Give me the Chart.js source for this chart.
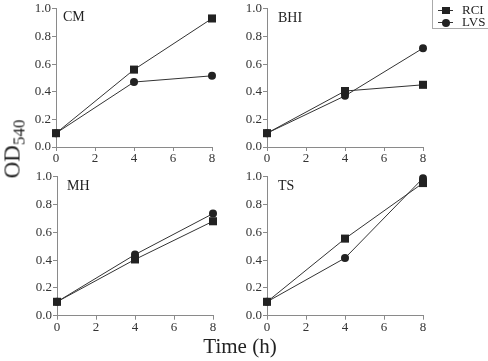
<!DOCTYPE html>
<html>
<head>
<meta charset="utf-8">
<script src="https://cdn.jsdelivr.net/npm/chart.js@4/dist/chart.umd.min.js"></script>
<style>
  body { margin: 0; background: #fff; }
  #wrap { position: relative; width: 488px; height: 361px; overflow: hidden; font-family: "Liberation Serif", "Times New Roman", serif; color: #222; }
  canvas { position: absolute; }
  #ylab { position: absolute; left: 14px; top: 149px; transform: translate(-50%, -50%) rotate(-90deg); font-size: 23px; line-height: 1; white-space: nowrap; }
  #ylab sub { font-size: 17px; vertical-align: -5px; line-height: 1; }
  #xlab { position: absolute; left: 240px; top: 334px; transform: translateX(-50%); font-size: 21px; white-space: nowrap; }
  #legend { position: absolute; left: 432px; top: -1px; width: 56px; height: 28px; border: 1px solid #aaa; font-size: 13px; }
  .item { position: absolute; left: 0; height: 12px; width: 56px; }
  .ln { position: absolute; left: 5px; top: 6px; width: 15px; height: 1px; background: #333; }
  .mk { position: absolute; background: #222; }
  .txt { position: absolute; left: 29px; top: -2px; }
</style>
</head>
<body>
<div id="wrap">
  <canvas id="p1" width="240" height="168" style="left:0;top:0"></canvas>
  <canvas id="p2" width="225" height="168" style="left:215px;top:0"></canvas>
  <canvas id="p3" width="240" height="172" style="left:0;top:168px"></canvas>
  <canvas id="p4" width="225" height="172" style="left:215px;top:168px"></canvas>
  <div id="ylab">OD<sub>540</sub></div>
  <div id="xlab">Time (h)</div>
  <div id="legend">
    <div class="item" style="top:4px"><div class="ln"></div><div class="mk" style="left:9px;top:3px;width:8px;height:7px"></div><div class="txt">RCI</div></div>
    <div class="item" style="top:16px"><div class="ln"></div><div class="mk" style="left:9px;top:3px;width:8px;height:8px;border-radius:50%"></div><div class="txt">LVS</div></div>
  </div>
</div>
<script>
const timeH = [0, 4, 8];
const xTicks = [0, 2, 4, 6, 8];
const yTicks = [0, 0.2, 0.4, 0.6, 0.8, 1.0];
const panelNames = ["CM", "BHI", "MH", "TS"];
const seriesNames = ["RCI", "LVS"];

const cmRCI = [0.10, 0.56, 0.93];
const cmLVS = [0.10, 0.47, 0.515];
const bhiRCI = [0.10, 0.405, 0.45];
const bhiLVS = [0.10, 0.37, 0.715];
const mhRCI = [0.10, 0.405, 0.68];
const mhLVS = [0.10, 0.44, 0.735];
const tsRCI = [0.10, 0.555, 0.955];
const tsLVS = [0.10, 0.415, 0.99];

const FONT = '"Liberation Serif", "Times New Roman", serif';
const AXIS = "#8a8a8a";

// panel label drawn inside the plot area
const panelLabel = {
  id: "panelLabel",
  afterDraw(chart, args, opts) {
    const { ctx, chartArea } = chart;
    ctx.save();
    ctx.font = "14px " + FONT;
    ctx.fillStyle = "#222";
    ctx.textBaseline = "alphabetic";
    ctx.fillText(opts.text, chartArea.left + opts.dx, chartArea.top + opts.dy);
    ctx.restore();
  },
};

function panel(id, name, rci, lvs, o) {
  const pts = (arr) => timeH.map((t, i) => ({ x: t, y: arr[i] }));
  new Chart(document.getElementById(id), {
    type: "line",
    data: {
      datasets: [
        { label: seriesNames[0], data: pts(rci), pointStyle: "rect", pointRadius: 5.7,
          borderColor: "#333", borderWidth: 1, backgroundColor: "#222", pointBorderColor: "#222", pointBorderWidth: 0, clip: false },
        { label: seriesNames[1], data: pts(lvs), pointStyle: "circle", pointRadius: 4,
          borderColor: "#333", borderWidth: 1, backgroundColor: "#222", pointBorderColor: "#222", pointBorderWidth: 0, clip: false },
      ],
    },
    plugins: [panelLabel],
    options: {
      responsive: false,
      animation: false,
      layout: { padding: { top: o.top, right: o.right, left: 0, bottom: 0 } },
      plugins: {
        legend: { display: false },
        tooltip: { enabled: false },
        panelLabel: { text: name, dx: o.dx, dy: o.dy },
      },
      scales: {
        x: {
          type: "linear", min: 0, max: 8,
          afterBuildTicks: (s) => { s.ticks = xTicks.map((v) => ({ value: v })); },
          afterFit: (s) => { s.height = o.xh; },
          ticks: { font: { family: FONT, size: 13 }, color: "#333", padding: 0, maxRotation: 0 },
          grid: { drawOnChartArea: false, tickLength: 4, color: AXIS },
          border: { color: AXIS },
        },
        y: {
          type: "linear", min: 0, max: 1,
          afterBuildTicks: (s) => { s.ticks = yTicks.map((v) => ({ value: v })); },
          afterFit: (s) => { s.width = o.yw; },
          ticks: { font: { family: FONT, size: 13 }, color: "#333", padding: 1,
                   callback: (v) => Number(v).toFixed(1) },
          grid: { drawOnChartArea: false, tickLength: 4, color: AXIS },
          border: { color: AXIS },
        },
      },
    },
  });
}

panel("p1", panelNames[0], cmRCI, cmLVS, { top: 5, right: 28, yw: 56, xh: 21, dx: 7, dy: 12 });
panel("p2", panelNames[1], bhiRCI, bhiLVS, { top: 5, right: 17, yw: 52, xh: 21, dx: 11, dy: 13 });
panel("p3", panelNames[2], mhRCI, mhLVS, { top: 3.5, right: 27, yw: 57, xh: 24.3, dx: 10, dy: 13.5 });
panel("p4", panelNames[3], tsRCI, tsLVS, { top: 3.5, right: 17, yw: 52, xh: 24.3, dx: 11, dy: 13.5 });
</script>
</body>
</html>
